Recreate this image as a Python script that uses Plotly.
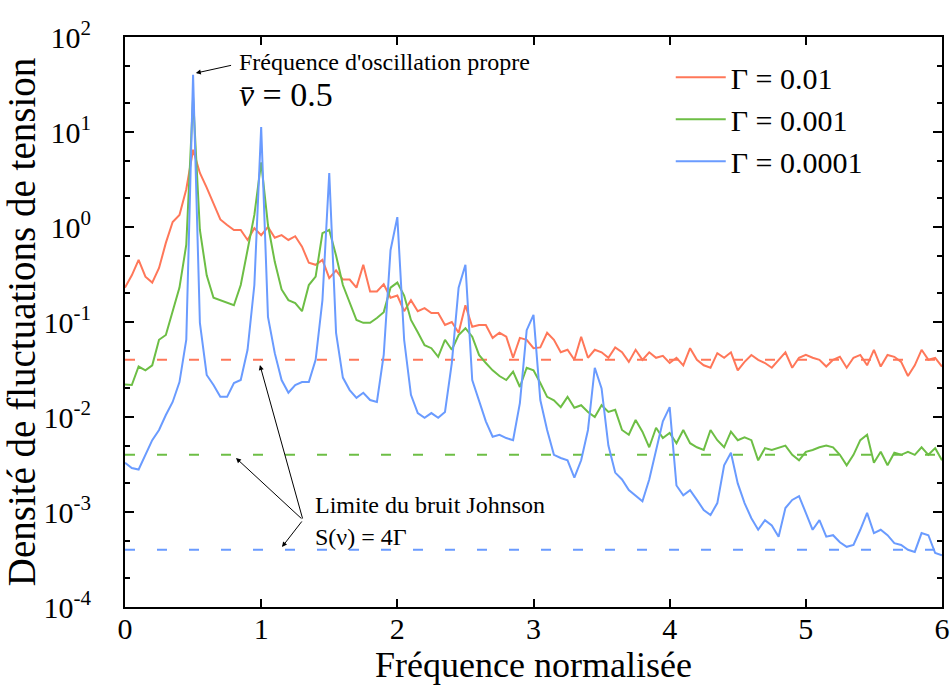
import plotly.graph_objects as go

# ---- data ----
freq = [round(i * 0.05, 2) for i in range(121)]

s_g01 = [0.23, 0.31, 0.45, 0.30, 0.26, 0.37, 0.68, 1.13, 1.34, 2.5,
         6.5, 3.7, 2.6, 1.79, 1.2, 1.05, 0.93, 0.93, 0.73, 0.97,
         0.82, 1.0, 0.77, 0.82, 0.73, 0.8, 0.62, 0.42, 0.40, 0.45,
         0.29, 0.35, 0.28, 0.28, 0.23, 0.40, 0.21, 0.21, 0.25, 0.18,
         0.19, 0.13, 0.17, 0.13, 0.14, 0.124, 0.124, 0.093, 0.1, 0.077,
         0.15, 0.089, 0.093, 0.093, 0.068, 0.077, 0.07, 0.042, 0.068, 0.065,
         0.053, 0.054, 0.077, 0.065, 0.048, 0.051, 0.040, 0.070, 0.042, 0.051,
         0.048, 0.042, 0.054, 0.048, 0.038, 0.051, 0.040, 0.048, 0.042, 0.044,
         0.037, 0.042, 0.035, 0.053, 0.040, 0.035, 0.033, 0.047, 0.042, 0.048,
         0.031, 0.038, 0.045, 0.040, 0.037, 0.033, 0.040, 0.048, 0.033, 0.042,
         0.045, 0.042, 0.040, 0.034, 0.040, 0.043, 0.033, 0.042, 0.045, 0.035,
         0.051, 0.034, 0.045, 0.043, 0.038, 0.027, 0.035, 0.051, 0.040, 0.042,
         0.034]

s_g001 = [0.022, 0.0217, 0.034, 0.031, 0.035, 0.065, 0.073, 0.13, 0.23, 0.65,
          23.0, 0.93, 0.31, 0.18, 0.17, 0.16, 0.15, 0.245, 0.55, 1.34,
          4.8, 1.05, 0.43, 0.22, 0.17, 0.158, 0.13, 0.245, 0.30, 0.86,
          0.93, 0.5, 0.245, 0.158, 0.105, 0.098, 0.098, 0.11, 0.127, 0.23,
          0.26, 0.19, 0.105, 0.078, 0.057, 0.053, 0.043, 0.065, 0.051, 0.073,
          0.086, 0.070, 0.045, 0.037, 0.031, 0.027, 0.0245, 0.03, 0.0207, 0.033,
          0.031, 0.0228, 0.0163, 0.015, 0.0127, 0.0163, 0.0125, 0.0133, 0.0113, 0.010,
          0.0133, 0.0113, 0.0119, 0.0073, 0.0065, 0.0093, 0.0070, 0.0048, 0.0077, 0.006,
          0.0068, 0.0053, 0.0073, 0.0053, 0.0048, 0.0045, 0.0073, 0.0057, 0.0048, 0.0070,
          0.0057, 0.0061, 0.0057, 0.0035, 0.0047, 0.0045, 0.0047, 0.005, 0.0040, 0.0035,
          0.0043, 0.0045, 0.0048, 0.005, 0.0048, 0.004, 0.0031, 0.004, 0.0057, 0.0065,
          0.0033, 0.0043, 0.0031, 0.0042, 0.004, 0.0043, 0.004, 0.0048, 0.004, 0.0047,
          0.0035]

s_g0001 = [0.0033, 0.0029, 0.0028, 0.004, 0.0057, 0.0073, 0.0105, 0.0144, 0.0233, 0.065,
           40.0, 0.098, 0.0277, 0.0217, 0.0163, 0.0163, 0.0228, 0.0245, 0.051, 0.245,
           11.3, 0.113, 0.047, 0.0245, 0.018, 0.0217, 0.0233, 0.0233, 0.040, 0.17,
           3.7, 0.077, 0.026, 0.0192, 0.0159, 0.018, 0.0151, 0.0144, 0.045, 0.57,
           1.27, 0.065, 0.0171, 0.011, 0.0098, 0.011, 0.0098, 0.0113, 0.037, 0.23,
           0.40, 0.0245, 0.0151, 0.009, 0.0062, 0.0065, 0.006, 0.0057, 0.014, 0.082,
           0.119, 0.0151, 0.0073, 0.004, 0.0037, 0.0035, 0.0023, 0.0035, 0.0073, 0.033,
           0.02, 0.005, 0.0026, 0.0022, 0.0017, 0.0015, 0.0013, 0.0022, 0.0045, 0.009,
           0.0127, 0.0019, 0.0015, 0.0017, 0.00134, 0.00105, 0.00093, 0.00124, 0.0031, 0.0042,
           0.002, 0.00124, 0.00086, 0.00065, 0.00082, 0.00072, 0.00055, 0.0011, 0.00134, 0.00147,
           0.00098, 0.00065, 0.00082, 0.00055, 0.00057, 0.00048, 0.00043, 0.00045, 0.00065, 0.00098,
           0.0006, 0.00065, 0.00057, 0.00047, 0.00045, 0.0004, 0.00038, 0.0006, 0.00057, 0.00037,
           0.00035]

series_names = ["Γ = 0.01", "Γ = 0.001", "Γ = 0.0001"]
johnson_limits = [0.04, 0.004, 0.0004]   # S(ν) = 4Γ
x_range = [0, 6]
x_ticks = [0, 1, 2, 3, 4, 5, 6]
y_tickvals = [1e-4, 1e-3, 1e-2, 1e-1, 1e0, 1e1, 1e2]
y_ticktext = ["10<sup>-4</sup>", "10<sup>-3</sup>", "10<sup>-2</sup>", "10<sup>-1</sup>",
              "10<sup>0</sup>", "10<sup>1</sup>", "10<sup>2</sup>"]

colors = ["#FF7759", "#6DBE45", "#6A9BFF"]
FONT = "Liberation Serif, Times New Roman, serif"

fig = go.Figure()

# Johnson noise limits (dashed)
for lim, c in zip(johnson_limits, colors):
    fig.add_trace(go.Scatter(x=x_range, y=[lim, lim], mode="lines",
                             line=dict(color=c, width=2, dash="10px,22px"),
                             showlegend=False, hoverinfo="skip"))

for ys, name, c in zip([s_g01, s_g001, s_g0001], series_names, colors):
    fig.add_trace(go.Scatter(x=freq, y=ys, mode="lines", name=name,
                             line=dict(color=c, width=2)))

axis_common = dict(showline=True, linecolor="black", linewidth=2, mirror="ticks",
                   ticks="inside", tickcolor="black", showgrid=False, zeroline=False,
                   automargin=False)

fig.update_xaxes(range=x_range, tickvals=x_ticks, ticklen=8, tickwidth=1.5,
                 ticklabelstandoff=-6,
                 tickfont=dict(family=FONT, size=30, color="black"),
                 title=dict(text="Fréquence normalisée", font=dict(family=FONT, size=36, color="black"),
                            standoff=4),
                 **axis_common)
fig.update_yaxes(type="log", range=[-4, 2], tickvals=y_tickvals, ticktext=y_ticktext,
                 ticklen=9, tickwidth=1.5, ticklabelstandoff=26,
                 tickfont=dict(family=FONT, size=30, color="black"),
                 minor=dict(ticks="inside", ticklen=5, tickcolor="black", showgrid=False),
                 title=dict(text="Densité de fluctuations de tension",
                            font=dict(family=FONT, size=39, color="black"), standoff=6),
                 **axis_common)

ann_font = dict(family=FONT, size=24, color="black")
annotations = [
    dict(x=0.82, y=1.737, xref="x", yref="y", text="Fréquence d'oscillation propre",
         showarrow=False, xanchor="left", yanchor="middle", font=ann_font),
    dict(x=0.52, y=1.62, ax=0.79, ay=1.705, xref="x", yref="y", axref="x", ayref="y",
         text="", showarrow=True, arrowhead=2, arrowsize=1, arrowwidth=1, arrowcolor="black"),
    dict(x=0.82, y=1.40, xref="x", yref="y", text="<i>v̄</i> = 0.5",
         showarrow=False, xanchor="left", yanchor="middle",
         font=dict(family=FONT, size=34, color="black")),
    dict(x=1.38, y=-2.926, xref="x", yref="y", text="Limite du bruit Johnson",
         showarrow=False, xanchor="left", yanchor="middle", font=ann_font),
    dict(x=1.38, y=-3.263, xref="x", yref="y", text="S(ν) = 4Γ",
         showarrow=False, xanchor="left", yanchor="middle", font=ann_font),
]
for hx, hy in [(0.991, -1.453), (0.815, -2.432), (1.153, -3.368)]:
    annotations.append(dict(x=hx, y=hy, ax=1.307, ay=-3.084, xref="x", yref="y",
                            axref="x", ayref="y", text="", showarrow=True, arrowhead=2,
                            arrowsize=1, arrowwidth=1, arrowcolor="black"))

fig.update_layout(
    width=952, height=686,
    margin=dict(l=125, r=10, t=37, b=79),
    plot_bgcolor="white", paper_bgcolor="white",
    font=dict(family=FONT, color="black"),
    annotations=annotations,
    legend=dict(x=0.668, y=0.975, xanchor="left", yanchor="top",
                bgcolor="rgba(0,0,0,0)", font=dict(family=FONT, size=30, color="black"),
                itemwidth=50),
)

fig.write_html("out.html", config={"displayModeBar": False},
               post_script="document.body.style.margin='0';document.body.style.overflow='hidden';")
